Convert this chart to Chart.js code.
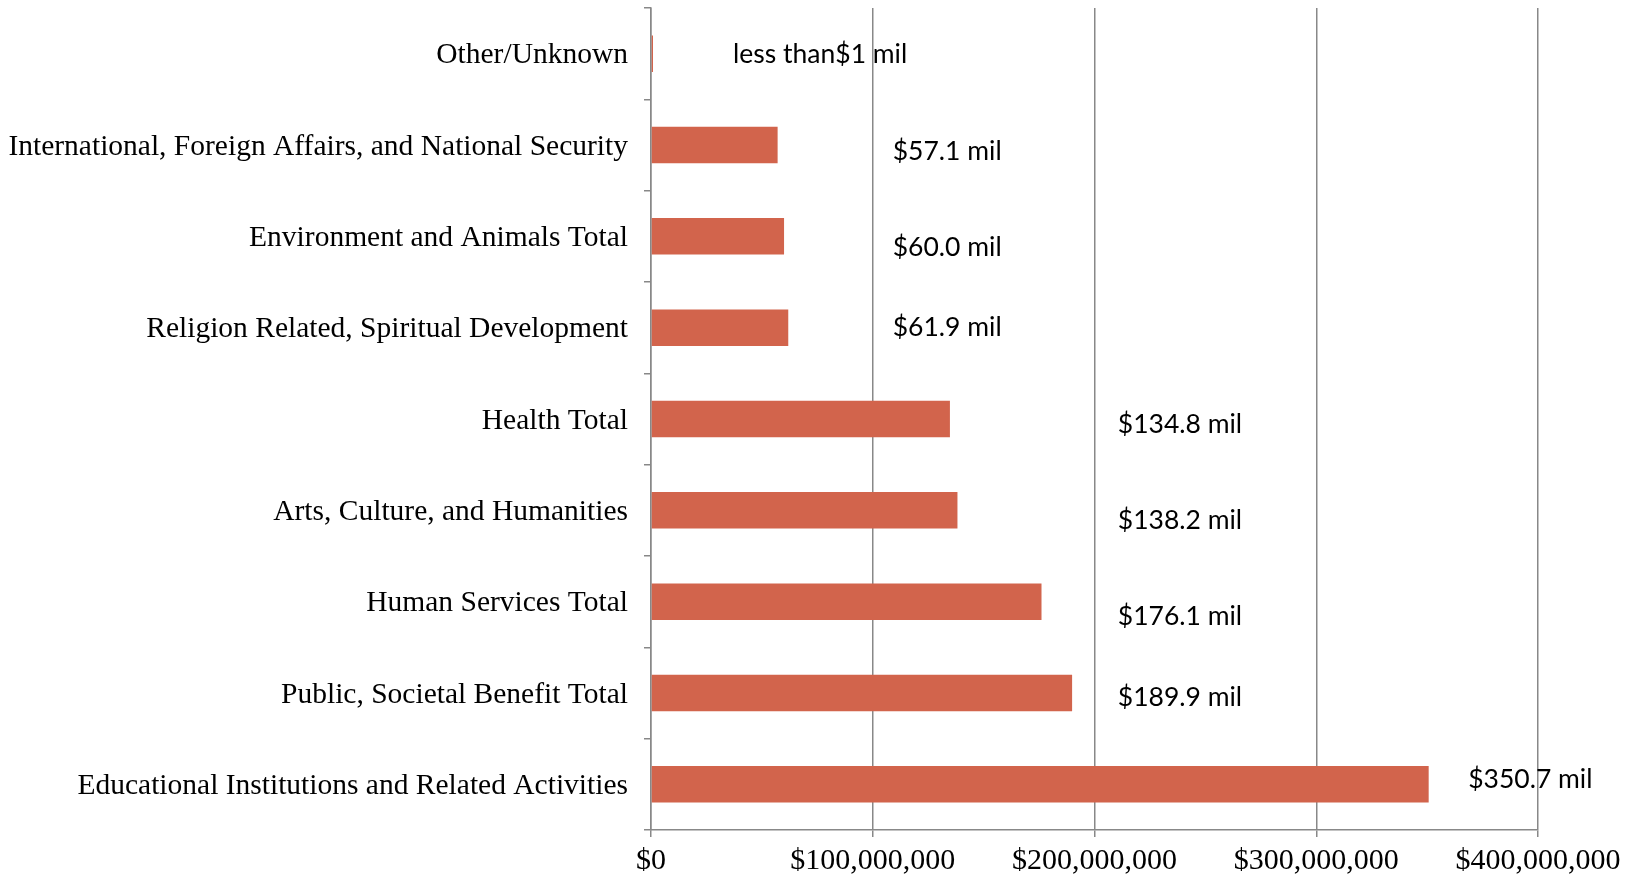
<!DOCTYPE html>
<html lang="en">
<head>
<meta charset="UTF-8">
<script src="https://cdn.jsdelivr.net/npm/chart.js@4.4.1/dist/chart.umd.min.js"></script>
<title>Giving by category</title>
<style>
  html, body { margin: 0; padding: 0; background: #fff; }
  #wrap { width: 1638px; height: 875px; }
</style>
</head>
<body>
<div id="wrap"><canvas id="chart" width="1638" height="875"></canvas></div>
<script>
// categories, top to bottom
const categories = [
    'Other/Unknown',
    'International, Foreign Affairs, and National Security',
    'Environment and Animals Total',
    'Religion Related, Spiritual Development',
    'Health Total',
    'Arts, Culture, and Humanities',
    'Human Services Total',
    'Public, Societal Benefit Total',
    'Educational Institutions and Related Activities'
];
// amounts in dollars
const amounts = [500000, 57100000, 60000000, 61900000, 134800000, 138200000, 176100000, 189900000, 350700000];
// the text boxes next to the bars
const valueLabels = ['less than$1 mil', '$57.1 mil', '$60.0 mil', '$61.9 mil', '$134.8 mil',
    '$138.2 mil', '$176.1 mil', '$189.9 mil', '$350.7 mil'];
const xTicks = [0, 100000000, 200000000, 300000000, 400000000];

// where the text boxes sit (they were placed by hand in the original)
const labelAt = [37e6, 109e6, 109e6, 109e6, 210.5e6, 210.5e6, 210.5e6, 210.5e6, 368.5e6];
const labelDy = [1, 6, 11, 0, 5, 10, 15, 4, -5];

const fmt = v => '$' + v.toLocaleString('en-US');

// draws the hand placed value labels
const valueLabelPlugin = {
    id: 'valueLabels',
    afterDatasetsDraw(chart) {
        const ctx = chart.ctx;
        const xs = chart.scales.x;
        const meta = chart.getDatasetMeta(0);
        ctx.save();
        ctx.font = '26.5px Lato';
        ctx.fillStyle = '#000';
        ctx.textBaseline = 'middle';
        ctx.textAlign = 'left';
        meta.data.forEach((bar, i) => {
            ctx.fillText(valueLabels[i], xs.getPixelForValue(labelAt[i]), bar.y + labelDy[i]);
        });
        ctx.restore();
    }
};

new Chart(document.getElementById('chart'), {
    type: 'bar',
    data: {
        labels: categories,
        datasets: [{
            data: amounts,
            backgroundColor: '#D2644C',
            borderWidth: 0,
            categoryPercentage: 1,
            barPercentage: 0.4,
            minBarLength: 2
        }]
    },
    options: {
        indexAxis: 'y',
        responsive: false,
        animation: false,
        layout: { padding: { top: 8, right: 100, left: 0, bottom: 0 } },
        plugins: { legend: { display: false }, tooltip: { enabled: false } },
        scales: {
            x: {
                min: 0,
                max: 400000000,
                afterBuildTicks: s => { s.ticks = xTicks.map(v => ({ value: v })); },
                afterFit: s => { s.height = 45; s.paddingLeft = 0; s.paddingRight = 0; },
                grid: { color: '#888', lineWidth: 1.5, tickLength: 7, drawTicks: true },
                border: { color: '#888', width: 1.5 },
                ticks: {
                    color: '#000',
                    padding: 6,
                    font: { family: 'Liberation Serif', size: 30 },
                    callback: v => fmt(v),
                    maxRotation: 0
                }
            },
            y: {
                afterFit: s => { s.width = 651; s.paddingTop = 0; s.paddingBottom = 0; },
                grid: { drawOnChartArea: false, color: '#888', lineWidth: 1.5, tickLength: 7, offset: true },
                border: { color: '#888', width: 1.5 },
                ticks: {
                    color: '#000',
                    padding: 16,
                    labelOffset: 2,
                    font: { family: 'Liberation Serif', size: 29.5 }
                }
            }
        }
    },
    plugins: [valueLabelPlugin]
});
</script>
</body>
</html>
